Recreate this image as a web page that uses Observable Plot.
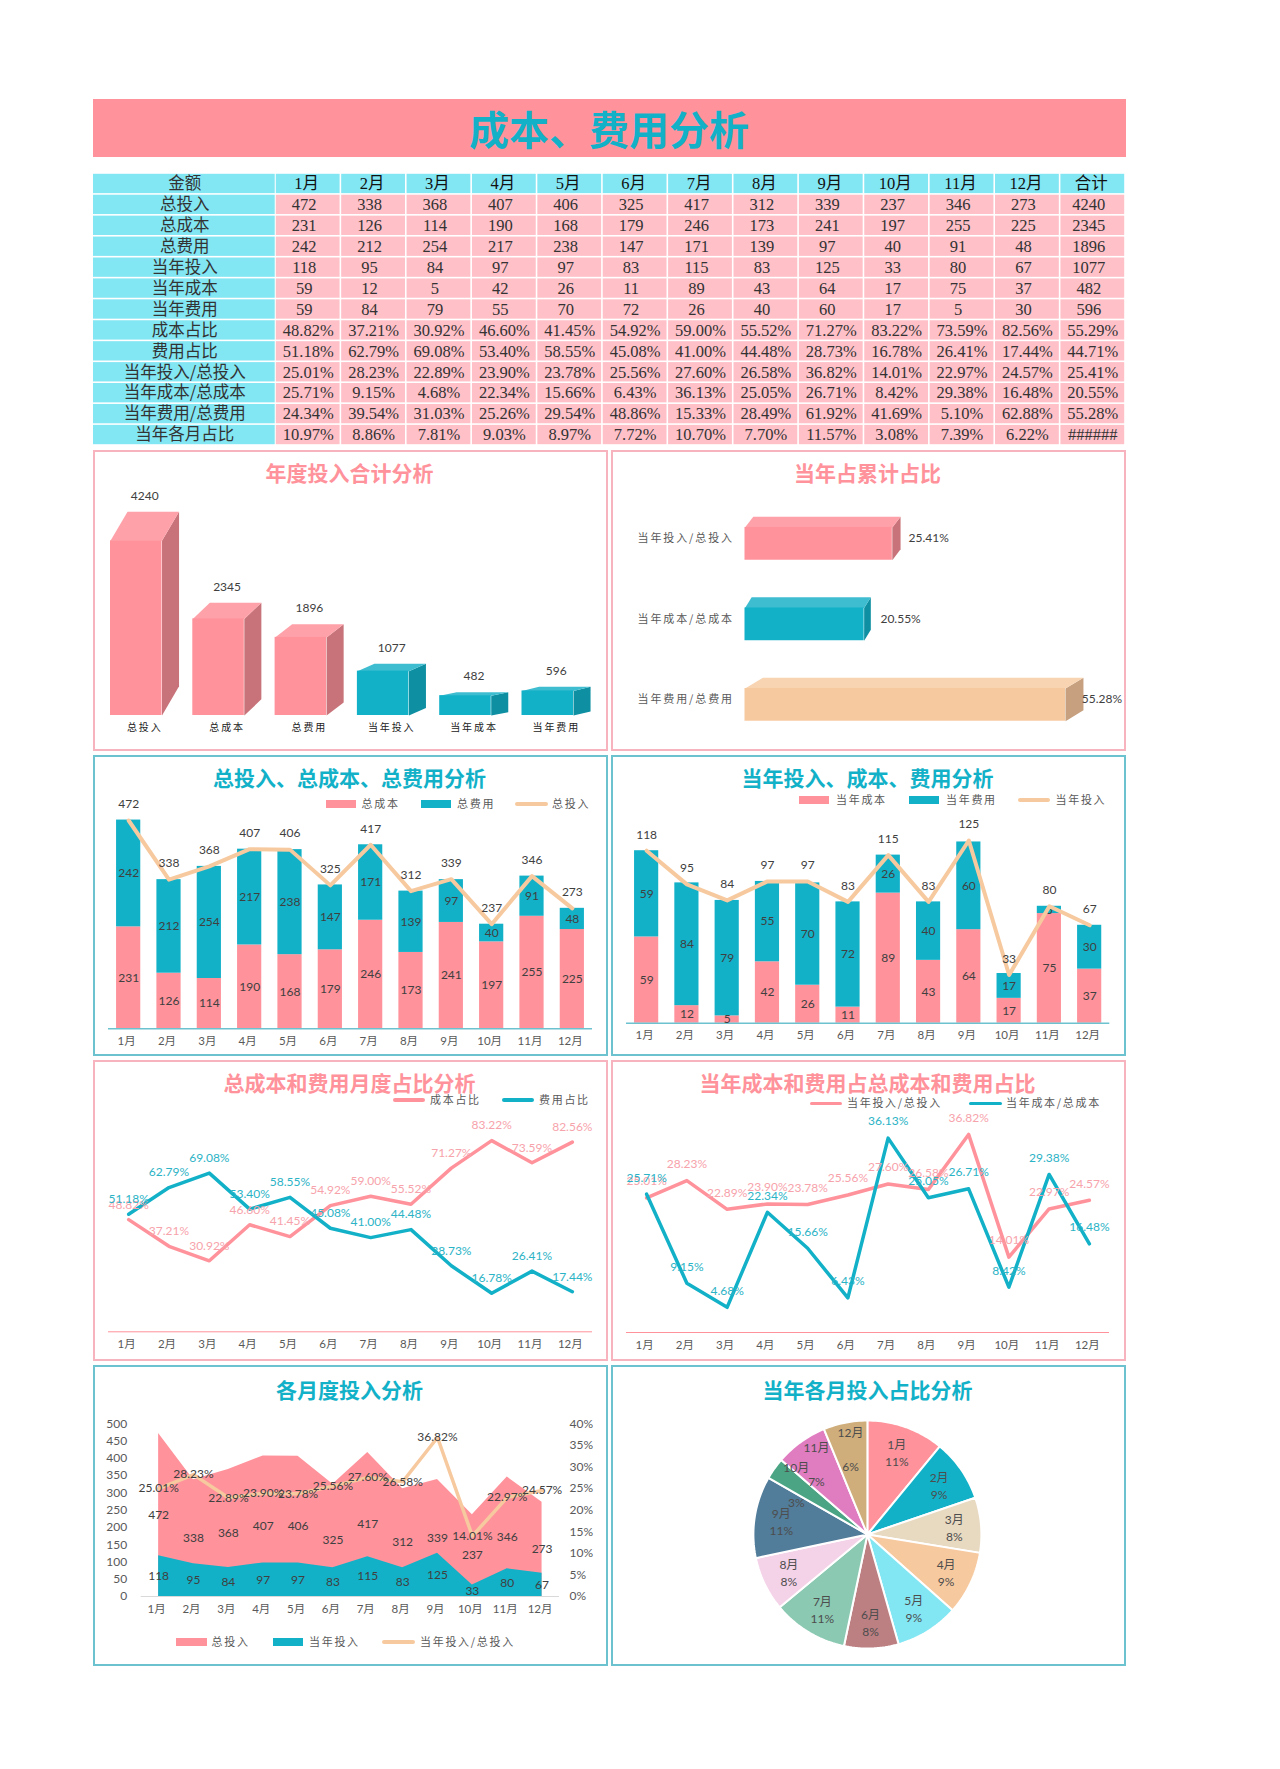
<!DOCTYPE html>
<html><head><meta charset="utf-8">
<script src="https://cdn.jsdelivr.net/npm/d3@7"></script>
<script src="https://cdn.jsdelivr.net/npm/@observablehq/plot@0.6"></script>
<style>
html,body{margin:0;padding:0;background:#fff}
#root{position:relative;width:1280px;height:1769px;overflow:hidden;background:#fff}
.abs{position:absolute}
.panel{position:absolute;box-sizing:border-box;border:2px solid}
.ptitle{position:absolute;font:700 21px/28px "Noto Sans CJK SC",sans-serif;text-align:center;white-space:nowrap}
.lg{position:absolute;font:400 11px/14px "Noto Sans CJK SC",sans-serif;letter-spacing:1.7px;color:#595959;white-space:nowrap}
.spaced text{letter-spacing:1.9px}
</style></head><body><div id="root"></div>
<script>
const months=["1月","2月","3月","4月","5月","6月","7月","8月","9月","10月","11月","12月"];
const total=[472,338,368,407,406,325,417,312,339,237,346,273];
const cost=[231,126,114,190,168,179,246,173,241,197,255,225];
const fee=[242,212,254,217,238,147,171,139,97,40,91,48];
const curIn=[118,95,84,97,97,83,115,83,125,33,80,67];
const curCost=[59,12,5,42,26,11,89,43,64,17,75,37];
const curFee=[59,84,79,55,70,72,26,40,60,17,5,30];
const costPct=[48.82,37.21,30.92,46.60,41.45,54.92,59.00,55.52,71.27,83.22,73.59,82.56,55.29];
const feePct=[51.18,62.79,69.08,53.40,58.55,45.08,41.00,44.48,28.73,16.78,26.41,17.44,44.71];
const inPct=[25.01,28.23,22.89,23.90,23.78,25.56,27.60,26.58,36.82,14.01,22.97,24.57,25.41];
const curCostPct=[25.71,9.15,4.68,22.34,15.66,6.43,36.13,25.05,26.71,8.42,29.38,16.48,20.55];
const curFeePct=[24.34,39.54,31.03,25.26,29.54,48.86,15.33,28.49,61.92,41.69,5.10,62.88,55.28];
const monthPct=[10.97,8.86,7.81,9.03,8.97,7.72,10.70,7.70,11.57,3.08,7.39,6.22];
const sums=[4240,2345,1896,1077,482,596];
const sumLabels=["总投入","总成本","总费用","当年投入","当年成本","当年费用"];
const ratioLabels=["当年投入/总投入","当年成本/总成本","当年费用/总费用"];
const ratios=[25.41,20.55,55.28];
const pieLabels=[11,9,8,9,9,8,11,8,11,3,7,6];
const pieColors=["#FF929B","#12B1C8","#E8D9C1","#F7C99F","#82E6F3","#BC7F82","#8BC9B2","#F4D2E8","#517C9A","#4BA584","#E07CC0","#CFAE7B"];

const PINK="#FF929B",TEAL="#12B1C8",PEACH="#F7C99F",HEAD="#82E6F3",BODY="#FFC0C8";
const BPINK="#F8B4BE",BTEAL="#6CC2CF",DARK="#404040",GREY="#595959";
const SANS='Lato,"Noto Sans CJK SC",sans-serif';
const CJK='"Noto Sans CJK SC",sans-serif';
const SERIF='"Liberation Serif","Noto Sans CJK SC",serif';
const root=document.getElementById("root");
function el(cls,style,text){const d=document.createElement("div");d.className=cls;Object.assign(d.style,style);if(text!=null)d.textContent=text;root.appendChild(d);return d}
function mount(plot,left,top){plot.style.position="absolute";plot.style.left=left+"px";plot.style.top=top+"px";plot.style.background="transparent";plot.style.overflow="visible";root.appendChild(plot)}
const px=v=>v+"px";

// banner
el("abs",{left:"92.5px",top:"99px",width:"1033px",height:"58px",background:PINK,color:TEAL,font:'700 40px/58px "Noto Sans CJK SC",sans-serif',textAlign:"center"},"成本、费用分析");

// table
const colNames=[...months,"合计"];
const rowNames=["金额",...sumLabels,"成本占比","费用占比","当年投入/总投入","当年成本/总成本","当年费用/总费用","当年各月占比"];
const intRows=[total,cost,fee,curIn,curCost,curFee];
const pctRows=[costPct,feePct,inPct,curCostPct,curFeePct];
const cells=[];
colNames.forEach(c=>cells.push({row:"金额",col:c,text:c,kind:"head"}));
intRows.forEach((r,k)=>colNames.forEach((c,i)=>cells.push({row:sumLabels[k],col:c,text:String(i<12?r[i]:sums[k]),kind:"int"})));
pctRows.forEach((r,k)=>colNames.forEach((c,i)=>cells.push({row:rowNames[7+k],col:c,text:r[i].toFixed(2)+"%",kind:"pct"})));
colNames.forEach((c,i)=>cells.push({row:"当年各月占比",col:c,text:i<12?monthPct[i].toFixed(2)+"%":"######",kind:"pct"}));
const tblY={domain:rowNames,padding:0,round:false,axis:null};
mount(Plot.plot({width:182.5,height:272,margin:0,y:tblY,style:{fontFamily:CJK},marks:[
  Plot.cell(rowNames,{y:d=>d,fill:HEAD,insetTop:.8,insetBottom:.8,insetLeft:0,insetRight:.8}),
  Plot.text(rowNames,{y:d=>d,text:d=>d,frameAnchor:"middle",fontSize:16.5,fill:"#333",fontFamily:CJK})
]}),92.5,172.7);
const tblText=(kind,dx,fill)=>Plot.text(cells.filter(d=>d.kind===kind),{x:"col",y:"row",text:"text",dx,fontSize:16.5,fill,fontFamily:SERIF});
mount(Plot.plot({width:850,height:272,margin:0,x:{domain:colNames,padding:0,round:false,axis:null},y:tblY,color:{type:"identity"},marks:[
  Plot.cell(cells,{x:"col",y:"row",fill:d=>d.kind==="head"?HEAD:BODY,insetTop:.8,insetBottom:.8,insetLeft:.8,insetRight:.8}),
  tblText("head",-1.5,"#111"),tblText("int",-4,"#333"),tblText("pct",0,"#333")
]}),275,172.7);

// panels
const panelW=515,panelH=301;
const lefts=[93,611],tops=[450,755,1060,1365];
function panel(col,row,border,titleColor,title){
  const l=lefts[col],t=tops[row];
  el("panel",{left:px(l),top:px(t),width:px(panelW),height:px(panelH),borderColor:border});
  el("ptitle",{left:px(l),top:px(t+[8,8,8,10][row]),width:px(panelW-2),color:titleColor},title);
  return {l,t};
}
function legend(items){
  items.forEach(it=>{
    if(it.type==="rect")el("abs",{left:px(it.x1),top:px(it.y-4),width:px(it.x2-it.x1),height:"8px",background:it.color});
    else el("abs",{left:px(it.x1),top:px(it.y-1.75),width:px(it.x2-it.x1),height:"3.5px",background:it.color,borderRadius:"2px"});
    el("lg",{left:px(it.tx),top:px(it.y-8.5)},it.label);
  });
}
const base={width:panelW,height:panelH,marginTop:0,marginLeft:0,marginRight:0,marginBottom:0,style:{fontFamily:SANS,fontSize:"12px"}};
const rec=months.map((m,i)=>({m,total:total[i],cost:cost[i],fee:fee[i],curIn:curIn[i],curCost:curCost[i],curFee:curFee[i],
  costPct:costPct[i],feePct:feePct[i],inPct:inPct[i],curCostPct:curCostPct[i]}));
const pf=v=>v.toFixed(2)+"%";
const monthAxis=(pad)=>Plot.axisX({tickSize:0,tickPadding:pad,dx:-2,fontSize:11.5,fill:GREY,fontFamily:SANS,label:null});

// 3D helper colours
const faces={[PINK]:{top:"#FFA1A9",side:"#C87379"},[TEAL]:{top:"#3FBDD0",side:"#0E8FA2"},[PEACH]:{top:"#F8D4B2",side:"#C6A07F"}};

// 1: 3D columns
{
  const {l,t}=panel(0,0,BPINK,PINK,"年度投入合计分析");
  const w=.626,dep=.207,rise=.167;
  const sumColor=i=>i<3?PINK:TEAL;
  const sides=[],tops3=[];
  sums.forEach((v,i)=>{
    const c=faces[sumColor(i)];
    [[i+w,0],[i+w+dep,v*rise],[i+w+dep,v*(1+rise)],[i+w,v]].forEach(p=>sides.push({id:i,x:p[0],y:p[1],c:c.side}));
    [[i,v],[i+w,v],[i+w+dep,v*(1+rise)],[i+dep,v*(1+rise)]].forEach(p=>tops3.push({id:i,x:p[0],y:p[1],c:c.top}));
  });
  const idx=d3.range(sums.length);
  mount(Plot.plot({...base,x:{type:"linear",domain:[0,5],range:[110-l,521.5-l],axis:null},y:{domain:[0,4240],range:[715-t,540.3-t],axis:null},color:{type:"identity"},marks:[
    Plot.line(sides,{x:"x",y:"y",z:"id",fill:"c",stroke:"none",curve:"linear-closed"}),
    Plot.line(tops3,{x:"x",y:"y",z:"id",fill:"c",stroke:"none",curve:"linear-closed"}),
    Plot.rect(idx,{x1:i=>i,x2:i=>i+w,y1:0,y2:i=>sums[i],fill:sumColor}),
    Plot.text(idx,{x:i=>i+(w+dep)/2,y:i=>sums[i]*(1+rise),text:i=>String(sums[i]),dy:-15.7,fontSize:12,fill:DARK,fontFamily:SANS}),
    Plot.text(idx,{x:i=>i+(w+dep)/2,y:0,text:i=>sumLabels[i],dy:12.7,fontSize:10,fill:"#222",fontFamily:CJK,className:"spaced"})
  ]}),l,t);
}
// 2: 3D bars
{
  const {l,t}=panel(1,0,BPINK,PINK,"当年占累计占比");
  const cols=[PINK,TEAL,PEACH],sides=[],tops3=[];
  const up=.137,down=.27,bt=.27,bb=.133;
  ratios.forEach((v,i)=>{
    const dep=v*.056,c=faces[cols[i]];
    [[v,i-up],[v+dep,i-bt],[v+dep,i+bb],[v,i+down]].forEach(p=>sides.push({id:i,x:p[0],y:p[1],c:c.side}));
    [[0,i-up],[v,i-up],[v+dep,i-bt],[dep,i-bt]].forEach(p=>tops3.push({id:i,x:p[0],y:p[1],c:c.top}));
  });
  const idx=d3.range(3);
  mount(Plot.plot({...base,x:{type:"linear",domain:[0,55.28],range:[744.5-l,1065-l],axis:null},y:{type:"linear",domain:[0,2],range:[538-t,699-t],axis:null},color:{type:"identity"},marks:[
    Plot.line(sides,{x:"x",y:"y",z:"id",fill:"c",stroke:"none",curve:"linear-closed"}),
    Plot.line(tops3,{x:"x",y:"y",z:"id",fill:"c",stroke:"none",curve:"linear-closed"}),
    Plot.rect(idx,{x1:0,x2:i=>ratios[i],y1:i=>i-up,y2:i=>i+down,fill:i=>cols[i]}),
    Plot.text(idx,{x:i=>ratios[i],y:i=>i,text:i=>pf(ratios[i]),dx:16.3,textAnchor:"start",fontSize:12,fill:DARK,fontFamily:SANS}),
    Plot.text(idx,{x:0,y:i=>i,text:i=>ratioLabels[i],dx:-11,textAnchor:"end",fontSize:11,fill:GREY,fontFamily:CJK,className:"spaced"})
  ]}),l,t);
}
// stacked + line helper
function stacked(l,t,mb,ml,mr,domainMax,rangeTop,axisY,bottomKey,topKey,lineKey,labelLift,pad,bottomName,topName){
  const long=rec.flatMap(d=>[{m:d.m,k:bottomName,v:d[bottomKey]},{m:d.m,k:topName,v:d[topKey]}]);
  return Plot.plot({...base,marginLeft:ml,marginRight:mr,marginBottom:mb,
    x:{type:"band",domain:months,paddingInner:.4,paddingOuter:.2,round:false},
    y:{domain:[0,domainMax],range:[axisY-t,rangeTop-t],axis:null},
    color:{domain:[bottomName,topName],range:[PINK,TEAL]},
    marks:[
      Plot.barY(long,{x:"m",y:"v",fill:"k",z:"k",order:null}),
      Plot.ruleY([0],{stroke:BTEAL,strokeWidth:1.5}),
      Plot.text(long,Plot.stackY({x:"m",y:"v",z:"k",order:null,text:d=>String(d.v),fontSize:12,fill:DARK,fontFamily:SANS})),
      Plot.line(rec,{x:"m",y:lineKey,stroke:PEACH,strokeWidth:4}),
      Plot.text(rec,{x:"m",y:lineKey,text:d=>String(d[lineKey]),dy:labelLift,fontSize:12,fill:DARK,fontFamily:SANS}),
      monthAxis(pad)
    ]});
}
// 3
{
  const {l,t}=panel(0,1,BTEAL,TEAL,"总投入、总成本、总费用分析");
  mount(stacked(l,t,27.7,15,16,472,820,1028.3,"cost","fee","total",-16,8,"总成本","总费用"),l,t);
  legend([{type:"rect",x1:325.5,x2:356,y:804,color:PINK,tx:361.5,label:"总成本"},
          {type:"rect",x1:421,x2:451,y:804,color:TEAL,tx:457,label:"总费用"},
          {type:"line",x1:515,x2:547.5,y:804,color:PEACH,tx:552,label:"总投入"}]);
}
// 4
{
  const {l,t}=panel(1,1,BTEAL,TEAL,"当年投入、成本、费用分析");
  mount(stacked(l,t,33.3,15,16.7,125,840,1022.7,"curCost","curFee","curIn",-16,8,"当年成本","当年费用"),l,t);
  legend([{type:"rect",x1:799,x2:829,y:800,color:PINK,tx:836,label:"当年成本"},
          {type:"rect",x1:908.5,x2:939,y:800,color:TEAL,tx:946,label:"当年费用"},
          {type:"line",x1:1018,x2:1050,y:800,color:PEACH,tx:1055.5,label:"当年投入"}]);
}
// two-line helper
function lines(l,t,mb,ml,mr,dMax,top,axisY,k1,k2,lift,pad){
  const LP="#F7A3AB",LT="#2BB3C6";
  return Plot.plot({...base,marginLeft:ml,marginRight:mr,marginBottom:mb,
    x:{type:"point",domain:months,padding:.5,round:false},
    y:{domain:[0,dMax],range:[axisY-t,top-t],axis:null},
    marks:[
      Plot.ruleY([0],{stroke:PINK,strokeWidth:1}),
      Plot.line(rec,{x:"m",y:k1,stroke:PINK,strokeWidth:3.5}),
      Plot.line(rec,{x:"m",y:k2,stroke:TEAL,strokeWidth:3.5}),
      Plot.text(rec,{x:"m",y:k1,text:d=>pf(d[k1]),dy:lift,fontSize:12,fill:LP,fontFamily:SANS}),
      Plot.text(rec,{x:"m",y:k2,text:d=>pf(d[k2]),dy:lift,fontSize:12,fill:LT,fontFamily:SANS}),
      monthAxis(pad)
    ]});
}
// 5
{
  const {l,t}=panel(0,2,BPINK,PINK,"总成本和费用月度占比分析");
  mount(lines(l,t,29.7,15,16,100,1101.6,1331.3,"costPct","feePct",-15,8),l,t);
  legend([{type:"line",x1:393,x2:425,y:1100,color:PINK,tx:430,label:"成本占比"},
          {type:"line",x1:501.5,x2:534,y:1100,color:TEAL,tx:539,label:"费用占比"}]);
}
// 6
{
  const {l,t}=panel(1,2,BPINK,PINK,"当年成本和费用占总成本和费用占比");
  mount(lines(l,t,29,15,17,40,1116.8,1332,"inPct","curCostPct",-16.5,8),l,t);
  legend([{type:"line",x1:810,x2:842,y:1103.7,color:PINK,tx:847,label:"当年投入/总投入"},
          {type:"line",x1:968.5,x2:1001.5,y:1103.7,color:TEAL,tx:1006,label:"当年成本/总成本"}]);
}
// 7
{
  const {l,t}=panel(0,3,BTEAL,TEAL,"各月度投入分析");
  const toLeft=p=>p*12.5;
  const leftTicks=d3.ticks(0,500,10);
  const rightTicks=[0,5,10,15,20,25,30,35,40];
  mount(Plot.plot({...base,marginLeft:47.7,marginRight:49,marginBottom:70,
    x:{type:"point",domain:months,padding:.5,round:false},
    y:{domain:[0,500],range:[1596-t,1423.3-t]},
    marks:[
      Plot.areaY(rec,{x:"m",y:"total",fill:PINK}),
      Plot.areaY(rec,{x:"m",y:"curIn",fill:TEAL}),
      Plot.ruleY([0],{stroke:"#D9D9D9",strokeWidth:1}),
      Plot.line(rec,{x:"m",y:d=>toLeft(d.inPct),stroke:PEACH,strokeWidth:3.5}),
      Plot.text(rec,{x:"m",y:d=>d.total/2,text:d=>String(d.total),fontSize:12,fill:DARK,fontFamily:SANS}),
      Plot.text(rec,{x:"m",y:d=>d.curIn/2,text:d=>String(d.curIn),fontSize:12,fill:DARK,fontFamily:SANS}),
      Plot.text(rec,{x:"m",y:d=>toLeft(d.inPct),text:d=>pf(d.inPct),fontSize:12,fill:DARK,fontFamily:SANS}),
      Plot.axisY({anchor:"left",ticks:leftTicks,tickSize:0,tickPadding:14,fontSize:12,fill:GREY,fontFamily:SANS,label:null}),
      Plot.axisY({anchor:"right",ticks:rightTicks.map(toLeft),tickFormat:v=>(v/12.5)+"%",tickSize:0,tickPadding:10,fontSize:12,fill:GREY,fontFamily:SANS,label:null}),
      monthAxis(8)
    ]}),l,t);
  legend([{type:"rect",x1:176,x2:207,y:1642,color:PINK,tx:211.5,label:"总投入"},
          {type:"rect",x1:273,x2:303,y:1642,color:TEAL,tx:309,label:"当年投入"},
          {type:"line",x1:382,x2:415,y:1642,color:PEACH,tx:420,label:"当年投入/总投入"}]);
}
// 8 pie
{
  const {l,t}=panel(1,3,BTEAL,TEAL,"当年各月投入占比分析");
  const arcs=d3.pie().sort(null)(curIn);
  const poly=[],labels=[];
  arcs.forEach((a,i)=>{
    poly.push({m:months[i],x:0,y:0});
    const n=Math.max(2,Math.ceil((a.endAngle-a.startAngle)*40));
    d3.range(n+1).forEach(j=>{
      const ang=a.startAngle+(a.endAngle-a.startAngle)*j/n;
      poly.push({m:months[i],x:Math.sin(ang),y:Math.cos(ang)});
    });
    const mid=(a.startAngle+a.endAngle)/2;
    const gap=i>=9?"\n\u00A0\n":"\n"; // the three narrowest slices wrap over a blank line
    labels.push({x:Math.sin(mid)*.765,y:Math.cos(mid)*.765,text:months[i]+gap+pieLabels[i]+"%"});
  });
  const cx=866.9-l,cy=1534-t,r=114;
  mount(Plot.plot({...base,x:{type:"linear",domain:[-1,1],range:[cx-r,cx+r],axis:null},y:{type:"linear",domain:[-1,1],range:[cy+r,cy-r],axis:null},
    color:{domain:months,range:pieColors},marks:[
    Plot.line(poly,{x:"x",y:"y",z:"m",fill:"m",stroke:"white",strokeWidth:2,curve:"linear-closed"}),
    Plot.text(labels,{x:"x",y:"y",text:"text",fontSize:12,lineHeight:1.42,fill:"#4d4d4d",fontFamily:SANS})
  ]}),l,t);
}
</script></body></html>
